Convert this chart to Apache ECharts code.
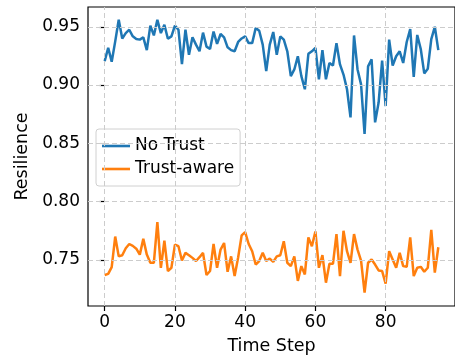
<!DOCTYPE html>
<html>
<head>
<meta charset="utf-8">
<script src="https://cdn.jsdelivr.net/npm/echarts@6/dist/echarts.min.js"></script>
<style>
  html, body { margin: 0; padding: 0; background: #fff; }
  #chart { width: 455px; height: 360px; }
</style>
</head>
<body>
<div id="chart"></div>
<script>
// Resilience over time for two strategies
const timeSteps = Array.from({ length: 96 }, (_, i) => i);

const noTrust = [
  0.9205, 0.932, 0.920, 0.9375, 0.956, 0.940, 0.9446, 0.9475, 0.9418, 0.9395,
  0.939, 0.941, 0.930, 0.951, 0.9426, 0.956, 0.9446, 0.9517, 0.9398, 0.9418,
  0.951, 0.9475, 0.918, 0.9475, 0.926, 0.941, 0.9347, 0.929, 0.9450, 0.933,
  0.931, 0.946, 0.9353, 0.9438, 0.941, 0.9324, 0.930, 0.929, 0.937, 0.940,
  0.9418, 0.936, 0.936, 0.949, 0.9466, 0.9347, 0.912, 0.9347, 0.9455, 0.926,
  0.9418, 0.939, 0.929, 0.9077, 0.9134, 0.9247, 0.9077, 0.8964, 0.9268, 0.929,
  0.932, 0.905, 0.930, 0.905, 0.919, 0.9168, 0.936, 0.9177, 0.909, 0.8964,
  0.8723, 0.9426, 0.9134, 0.9006, 0.858, 0.916, 0.922, 0.868, 0.885, 0.921,
  0.882, 0.939, 0.9168, 0.9247, 0.929, 0.919, 0.937, 0.948, 0.907, 0.943,
  0.931, 0.910, 0.914, 0.9395, 0.950, 0.930
];

const trustAware = [
  0.737, 0.738, 0.7438, 0.770, 0.753, 0.754, 0.760, 0.7636, 0.762, 0.7596,
  0.7545, 0.768, 0.7545, 0.7475, 0.7475, 0.7823, 0.7432, 0.7664, 0.7404, 0.7432,
  0.763, 0.7617, 0.7494, 0.756, 0.754, 0.7517, 0.749, 0.7523, 0.756, 0.737,
  0.7404, 0.7636, 0.7432, 0.7588, 0.7645, 0.7398, 0.753, 0.7361, 0.752, 0.771,
  0.7738, 0.7636, 0.7574, 0.746, 0.749, 0.756, 0.749, 0.7511, 0.7483, 0.753,
  0.754, 0.766, 0.7475, 0.7446, 0.753, 0.7319, 0.7446, 0.7375, 0.7693, 0.7617,
  0.7744, 0.7432, 0.754, 0.7304, 0.7466, 0.7466, 0.7721, 0.7361, 0.775, 0.7574,
  0.7475, 0.7721, 0.7588, 0.7494, 0.7219, 0.7475, 0.7503, 0.746, 0.7409, 0.7404,
  0.7296, 0.7574, 0.7503, 0.7432, 0.756, 0.7446, 0.744, 0.7693, 0.7361, 0.7432,
  0.744, 0.7398, 0.7432, 0.7758, 0.739, 0.7608
];

const xTicks = [0, 20, 40, 60, 80];
const yTicks = [0.75, 0.80, 0.85, 0.90, 0.95];

const FONT = 'DejaVu Sans';
const BLUE = '#1f77b4';
const ORANGE = '#ff7f0e';

const chart = echarts.init(document.getElementById('chart'), null, { renderer: 'canvas' });

chart.setOption({
  animation: false,
  backgroundColor: '#ffffff',
  grid: {
    left: 88, top: 7, width: 374.5, bottom: 51.5,
    show: true, borderColor: '#000', borderWidth: 1.2, backgroundColor: 'transparent'
  },
  legend: {
    left: 96, top: 129, orient: 'vertical',
    padding: [8.5, 6, 8.5, 6], itemGap: 6,
    itemWidth: 28, itemHeight: 2.6,
    backgroundColor: 'rgba(255,255,255,0.8)',
    borderColor: '#d0d0d0', borderWidth: 1, borderRadius: 3,
    textStyle: { fontFamily: FONT, fontSize: 17, color: '#000', lineHeight: 17 },
    data: [
      { name: 'No Trust', icon: 'rect', itemStyle: { color: BLUE } },
      { name: 'Trust-aware', icon: 'rect', itemStyle: { color: ORANGE } }
    ]
  },
  xAxis: {
    type: 'value', min: -4.75, max: 99.75,
    name: 'Time Step', nameLocation: 'middle', nameGap: 31,
    nameTextStyle: { fontFamily: FONT, fontSize: 17.5, color: '#000' },
    axisLine: { show: false },
    axisTick: { show: true, customValues: xTicks, length: 5, lineStyle: { color: '#000', width: 1.2 } },
    axisLabel: { customValues: xTicks, fontFamily: FONT, fontSize: 17, color: '#000', margin: 8 },
    splitLine: { show: false }
  },
  yAxis: {
    type: 'value', min: 0.7104, max: 0.967,
    name: 'Resilience', nameLocation: 'middle', nameGap: 57,
    nameTextStyle: { fontFamily: FONT, fontSize: 17.5, color: '#000' },
    axisLine: { show: false },
    axisTick: { show: true, customValues: yTicks, length: 5, lineStyle: { color: '#000', width: 1.2 } },
    axisLabel: { customValues: yTicks, fontFamily: FONT, fontSize: 17, color: '#000', margin: 8,
      formatter: v => v.toFixed(2) },
    splitLine: { show: false }
  },
  series: [
    {
      name: 'No Trust', type: 'line', symbol: 'none',
      data: timeSteps.map((t, i) => [t, noTrust[i]]),
      lineStyle: { color: BLUE, width: 2.5 }, itemStyle: { color: BLUE },
      markLine: {
        silent: true, symbol: 'none', label: { show: false }, animation: false,
        lineStyle: { color: '#cccccc', width: 1, type: [5, 3] },
        data: xTicks.map(v => ({ xAxis: v })).concat(yTicks.map(v => ({ yAxis: v })))
      },
      z: 3
    },
    {
      name: 'Trust-aware', type: 'line', symbol: 'none',
      data: timeSteps.map((t, i) => [t, trustAware[i]]),
      lineStyle: { color: ORANGE, width: 2.5 }, itemStyle: { color: ORANGE },
      z: 3
    }
  ]
});
</script>
</body>
</html>
